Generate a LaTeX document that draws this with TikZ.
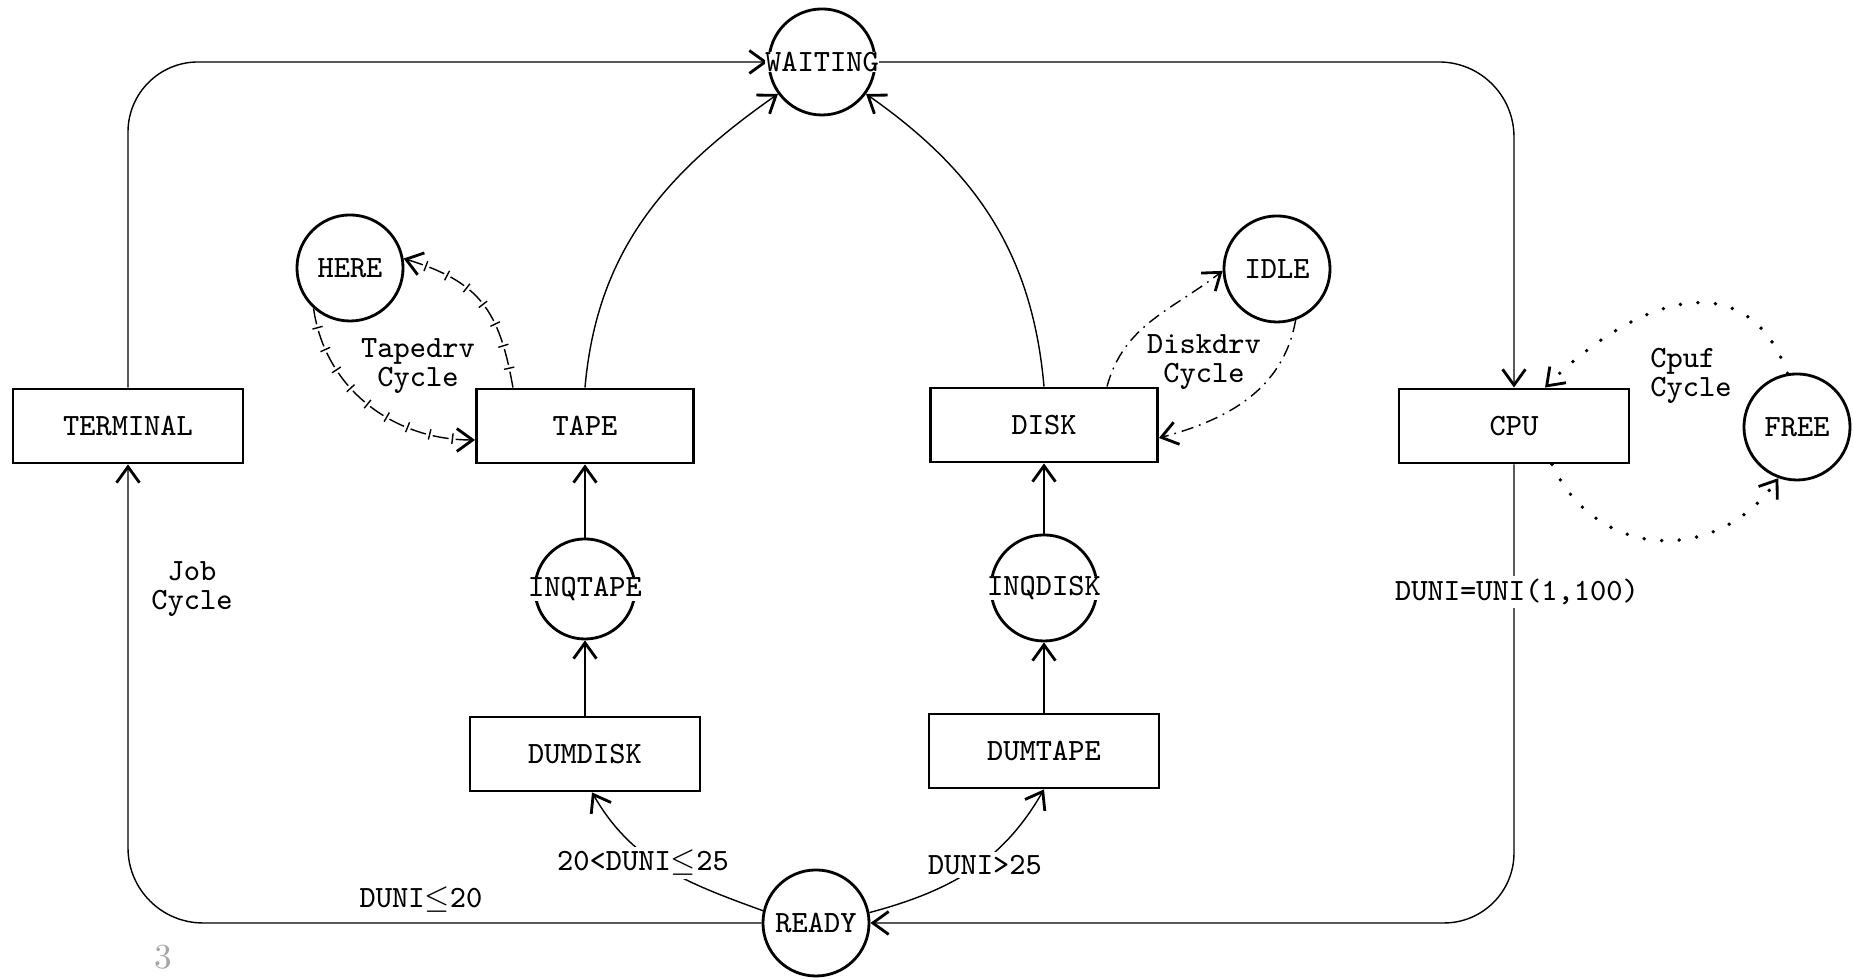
\documentclass[tikz,border=0pt]{standalone}
\usepackage{fontspec}
\usepackage{amssymb}
\usepackage{tikz}
\usetikzlibrary{arrows.meta,backgrounds,decorations.markings}
% white box behind a text that is wider than its circle
\newcommand{\behind}[1]{\makebox[0pt]{\setlength{\fboxsep}{0pt}\colorbox{white}{#1}}}
\tikzset{
    %Define standard arrow tip
    >={Straight Barb[length=4.5pt,width=6.5pt,line width=0.8pt]},
    %Define style for queues
    queue/.style={
           circle,
           draw=black, thick,
           minimum size=1.06cm,
           inner sep=0pt,
           font=\ttfamily\fontsize{8.8}{8.3}\selectfont,
           text centered},
    %Define style for facilities
    facility/.style={
           rectangle,
           draw=black, thick,
           minimum width=2.3cm,
           minimum height=0.74cm,
           font=\ttfamily\fontsize{8.8}{8.3}\selectfont,
           text centered},
    %Define style for labels
    lab/.style={
           font=\ttfamily\fontsize{8.8}{8.3}\selectfont,
           align=center,
           inner sep=1pt},
    % Define line styles of the cycles
    tickline/.style={
           dash pattern=on 4.6pt off 2pt,
           postaction={decorate,decoration={markings,
             mark=between positions 5.6pt and -3pt step 6.6pt with {\draw[solid,thin,-] (0,-1.5pt) -- (0,1.5pt);}}}},
    dashdotline/.style={
           dash pattern=on 3.5pt off 1.7pt on 0.5pt off 1.7pt},
    dotline/.style={
           line width=1.1pt, line cap=round,
           dash pattern=on 0pt off 5pt}
}
\begin{document}
\begin{tikzpicture}[x=0.01cm,y=0.01cm,thick]
\useasboundingbox (0,0) rectangle (1853,980);
 %nodes
\node[queue](waiting) at (822,918){\behind{WAITING}};
\node[facility](terminal) at (128,554){TERMINAL};
\node[facility,minimum width=2.17cm](tape) at (585,554){TAPE};
\node[facility,minimum width=2.27cm](disk) at (1044,555){DISK};
\node[facility](cpu) at (1514,554){CPU};
\node[queue](here) at (350,712){HERE};
\node[queue](idle) at (1277,711){IDLE};
\node[queue](free) at (1797,553){FREE};
\node[queue,minimum size=1cm](inqtape) at (585,391){\behind{INQTAPE}};
\node[queue](inqdisk) at (1044,392){\behind{INQDISK}};
\node[facility](dumdisk) at (585,226){DUMDISK};
\node[facility](dumtape) at (1044,229){DUMTAPE};
\node[queue](ready) at (816,57){READY};
 %labels
\node[lab](tapecyc) at (418,614){Tapedrv\\Cycle};
\node[lab](diskcyc) at (1204,618){Diskdrv\\Cycle};
\node[lab,align=left](cpucyc) at (1691,604){Cpuf\\Cycle};
\node[lab](jobcyc) at (192,391){Job\\Cycle};
\node[lab,fill=white](duni) at (1517,388){DUNI=UNI(1,100)};
\node[lab](low) at (421,80){DUNI$\leq$20};
\node[lab,fill=white](mid) at (643,117){20<DUNI$\leq$25};
\node[lab,fill=white](high) at (985,115){DUNI>25};
\node[text=gray!70,font=\fontsize{10}{12}\selectfont](page) at (163,23){3};
 %connectors
\begin{scope}[on background layer]
\fill[white] (0,0) rectangle (1853,980);
% job cycle
\draw[->,rounded corners=0.7cm] (terminal.north) |- (waiting.west);
\draw[->,rounded corners=0.75cm] (waiting.east) -| (cpu.north);
\draw[->,rounded corners=0.7cm] (cpu.south) |- (ready.east);
\draw[->,rounded corners=0.75cm] (ready.west) -| (terminal.south);
\draw[->] (tape.north) to[out=85,in=215] (waiting.216);
\draw[->] (disk.north) to[out=95,in=-35] (waiting.324);
\draw[->] (ready.167) to[out=160,in=-60] ([xshift=0.07cm]dumdisk.south);
\draw[->] (ready.11) to[out=15,in=-120] (dumtape.south);
\path (dumdisk) edge[->] (inqtape)
      (inqtape) edge[->] (tape)
      (dumtape) edge[->] (inqdisk)
      (inqdisk) edge[->] (disk);
% device cycles
\draw[->,tickline] ([xshift=-0.72cm]tape.north) to[out=100,in=-17,looseness=1.2] (here.10);
\draw[->,tickline] (here.228) to[out=-82,in=180] ([yshift=-0.14cm]tape.west);
\draw[->,dashdotline] ([xshift=0.63cm]disk.north) to[out=75,in=218] (idle.182);
\draw[->,dashdotline] (idle.290) to[out=-100,in=15] ([yshift=-0.13cm]disk.east);
\draw[->,dotline] (free.100) to[out=110,in=45,looseness=1.3] ([xshift=0.31cm]cpu.north);
\draw[->,dotline] ([xshift=0.38cm]cpu.south) to[out=-65,in=235,looseness=1.2] (free.250);
\end{scope}
\end{tikzpicture}
\end{document}
